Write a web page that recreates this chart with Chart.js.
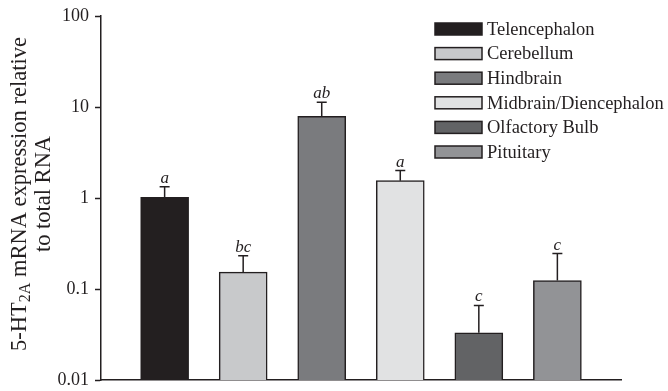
<!DOCTYPE html>
<html>
<head>
<meta charset="utf-8">
<script src="https://cdn.jsdelivr.net/npm/chart.js@4.4.1/dist/chart.umd.min.js"></script>
<style>
  html, body { margin: 0; padding: 0; background: #fff; }
  #wrap { width: 668px; height: 391px; }
</style>
</head>
<body>
<div id="wrap"><canvas id="chart" width="668" height="391"></canvas></div>
<script>
// regions and their values (relative expression, log axis)
const regions = ['Telencephalon', 'Cerebellum', 'Hindbrain', 'Midbrain/Diencephalon', 'Olfactory Bulb', 'Pituitary'];
const meanValues = [1.02, 0.153, 7.9, 1.55, 0.033, 0.124];
const errorTops = [1.33, 0.232, 11.3, 2.0, 0.066, 0.245];
const sigLetters = ['a', 'bc', 'ab', 'a', 'c', 'c'];
const barColors = ['#231f20', '#c8c9cb', '#7a7b7e', '#e1e2e3', '#626365', '#929396'];
const yTickValues = [0.01, 0.1, 1, 10, 100];
const yTickLabels = ['0.01', '0.1', '1', '10', '100'];

const ink = '#231f20';
const serif = '"Liberation Serif", "DejaVu Serif", serif';

// error bars + significance letters
const errorBarPlugin = {
  id: 'errorBars',
  afterDatasetsDraw(chart) {
    const { ctx, scales: { x, y } } = chart;
    ctx.save();
    ctx.strokeStyle = ink;
    ctx.lineWidth = 1.5;
    ctx.fillStyle = ink;
    ctx.font = 'italic 17px ' + serif;
    ctx.textAlign = 'center';
    ctx.textBaseline = 'alphabetic';
    meanValues.forEach((v, i) => {
      const cx = x.getPixelForValue(i);
      const yTop = y.getPixelForValue(v);
      const yErr = y.getPixelForValue(errorTops[i]);
      ctx.beginPath();
      ctx.moveTo(cx, yTop);
      ctx.lineTo(cx, yErr);
      ctx.moveTo(cx - 5, yErr);
      ctx.lineTo(cx + 5, yErr);
      ctx.stroke();
      ctx.fillText(sigLetters[i], cx, yErr - 4);
    });
    ctx.restore();
  }
};

// legend in the top right, plus the two-line y title with subscript
const decorPlugin = {
  id: 'decor',
  afterDraw(chart) {
    const { ctx } = chart;
    ctx.save();
    ctx.font = '18.5px ' + serif;
    ctx.textBaseline = 'middle';
    ctx.textAlign = 'left';
    regions.forEach((name, i) => {
      const yc = 29 + i * 24.6;
      ctx.fillStyle = barColors[i];
      ctx.fillRect(435, yc - 6, 47, 12);
      ctx.strokeStyle = ink;
      ctx.lineWidth = 1.5;
      ctx.strokeRect(435, yc - 6, 47, 12);
      ctx.fillStyle = ink;
      ctx.fillText(name, 487, yc + 1);
    });

    // y title
    ctx.translate(0, 194);
    ctx.rotate(-Math.PI / 2);
    ctx.fillStyle = ink;
    ctx.textBaseline = 'alphabetic';
    const big = '22.5px ' + serif;
    const small = '16px ' + serif;
    const parts = [['5-HT', big, 0], ['2A', small, 4], [' mRNA expression relative', big, 0]];
    let total = 0;
    parts.forEach(p => { ctx.font = p[1]; total += ctx.measureText(p[0]).width; });
    let px = -total / 2;
    parts.forEach(p => {
      ctx.font = p[1];
      ctx.fillText(p[0], px, 26 + p[2]);
      px += ctx.measureText(p[0]).width;
    });
    ctx.font = big;
    ctx.textAlign = 'center';
    ctx.fillText('to total RNA', 0, 50);
    ctx.restore();
  }
};

new Chart(document.getElementById('chart'), {
  type: 'bar',
  data: {
    datasets: [{
      data: meanValues.map((v, i) => ({ x: i, y: v })),
      backgroundColor: barColors,
      borderColor: ink,
      borderWidth: 1.5,
      barThickness: 48
    }]
  },
  options: {
    responsive: false,
    animation: false,
    layout: { padding: { left: 0, right: 47, top: 16, bottom: 11 } },
    plugins: { legend: { display: false }, tooltip: { enabled: false } },
    scales: {
      x: {
        type: 'linear',
        offset: false,
        min: -0.81,
        max: 5.81,
        afterFit(scale) { scale.height = 0; },
        grid: { display: false, offset: false },
        ticks: { display: false },
        border: { display: true, color: ink, width: 1.5 }
      },
      y: {
        type: 'logarithmic',
        min: 0.01,
        max: 100,
        afterFit(scale) {
          scale.width = 101;
          scale.paddingTop = 0;
          scale.paddingBottom = 0;
        },
        afterBuildTicks(scale) { scale.ticks = yTickValues.map(v => ({ value: v })); },
        ticks: {
          color: ink,
          padding: 6,
          font: { family: serif, size: 18 },
          callback: (v) => yTickLabels[yTickValues.indexOf(v)]
        },
        grid: { drawOnChartArea: false, drawTicks: true, tickLength: 6, tickColor: ink, tickWidth: 1.5 },
        border: { display: true, color: ink, width: 1.5 }
      }
    }
  },
  plugins: [errorBarPlugin, decorPlugin]
});
</script>
</body>
</html>
